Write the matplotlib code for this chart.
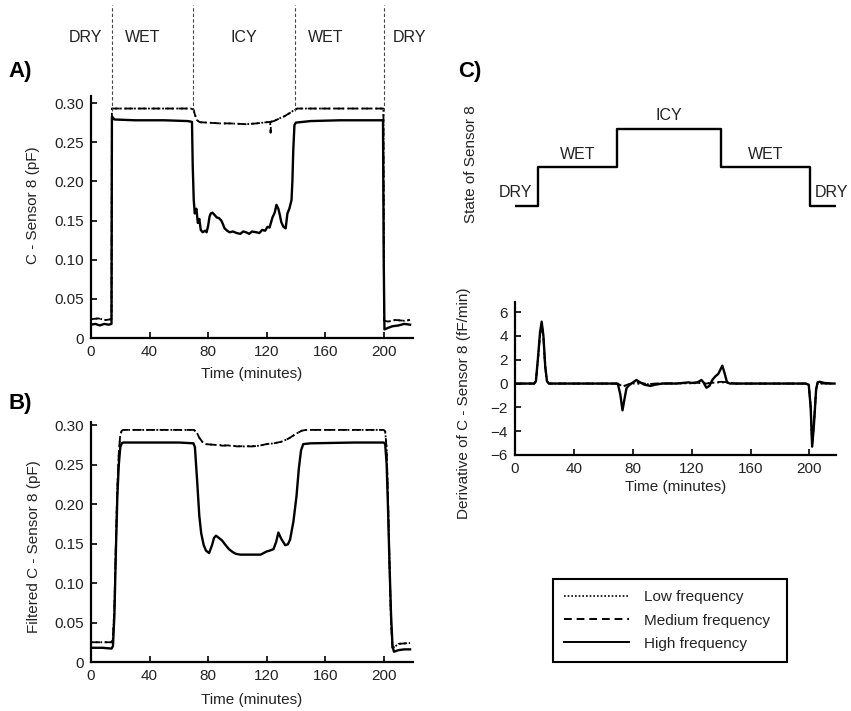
import matplotlib
matplotlib.use('Agg')
import matplotlib.pyplot as plt
from matplotlib.lines import Line2D

plt.rcParams['font.family'] = ['Liberation Sans', 'DejaVu Sans']
TXT = '#222222'
plt.rcParams['text.color'] = TXT
plt.rcParams['axes.labelcolor'] = TXT
plt.rcParams['xtick.color'] = '#000000'
plt.rcParams['ytick.color'] = '#000000'
plt.rcParams['xtick.labelcolor'] = TXT
plt.rcParams['ytick.labelcolor'] = TXT

# ---------------- data ----------------
state_names = ['DRY', 'WET', 'ICY', 'WET', 'DRY']
transition_times = [14.5, 69.5, 139.5, 200.5]
state_times = [0, 15.5, 69, 140, 200.5, 217]
state_levels = [0, 1, 2, 1, 0, 0]

# Panel A (raw capacitance, pF)
tA_high = [0, 3, 6, 9, 12, 14, 14.3, 16, 30, 50, 66, 69, 69.5, 70.2, 70.9, 72, 73, 74, 75,
           76.3, 78, 79, 80, 81, 81.8, 83, 84.5, 85.9, 87.5, 89, 90, 91.3, 93, 94.7, 97, 99.5,
           102, 104, 106, 108, 110, 113, 115, 117, 119, 120.6, 122, 124, 125.5, 126.7, 128,
           128.8, 130, 131.5, 133, 134.2, 135.5, 137, 137.6, 138.2, 139, 140, 150, 170, 199.5,
           200, 200.5, 203, 206, 210, 214, 218]
cA_high = [0.017, 0.018, 0.016, 0.018, 0.017, 0.018, 0.283, 0.279, 0.278, 0.278, 0.277, 0.276,
           0.22, 0.176, 0.159, 0.165, 0.147, 0.152, 0.138, 0.135, 0.137, 0.135, 0.143, 0.155,
           0.159, 0.160, 0.157, 0.154, 0.153, 0.150, 0.146, 0.140, 0.137, 0.135, 0.136, 0.134,
           0.133, 0.136, 0.135, 0.133, 0.136, 0.135, 0.134, 0.138, 0.137, 0.142, 0.141, 0.154,
           0.160, 0.170, 0.165, 0.159, 0.148, 0.142, 0.140, 0.159, 0.165, 0.176, 0.20, 0.24,
           0.272, 0.275, 0.277, 0.278, 0.278, 0.10, 0.011, 0.013, 0.015, 0.016, 0.018, 0.017]

tA_med = [0, 5, 10, 14, 14.3, 20, 68, 70, 71, 72.5, 74.3, 80, 88, 95, 106, 113, 120, 122.4,
          122.7, 123, 125, 129, 132, 135.6, 138, 140, 141, 160, 199.8, 200.2, 203, 208, 214, 218]
cA_med = [0.024, 0.025, 0.023, 0.024, 0.293, 0.293, 0.293, 0.292, 0.285, 0.278, 0.2755, 0.275,
          0.274, 0.274, 0.273, 0.274, 0.2755, 0.276, 0.262, 0.276, 0.277, 0.2806, 0.283, 0.287,
          0.290, 0.292, 0.293, 0.293, 0.293, 0.022, 0.021, 0.023, 0.022, 0.023]

tA_low = [0, 5, 10, 14, 14.3, 20, 68, 70, 71, 72.5, 74.3, 80, 88, 95, 106, 113, 120, 125, 129,
          132, 135.6, 138, 140, 141, 160, 199.8, 200.2, 203, 208, 214, 218]
cA_low = [0.024, 0.025, 0.023, 0.024, 0.293, 0.293, 0.293, 0.292, 0.285, 0.278, 0.2755, 0.275,
          0.274, 0.274, 0.273, 0.274, 0.2755, 0.277, 0.2806, 0.283, 0.287, 0.290, 0.292, 0.293,
          0.293, 0.293, 0.022, 0.021, 0.023, 0.022, 0.023]

# Panel B (filtered capacitance, pF)
tB_high = [0, 8, 14, 15, 16, 17, 18, 19, 20, 21, 22, 40, 60, 70, 71, 72.5, 74, 75.3, 77, 78.6,
           80.7, 82.7, 84, 85.4, 87.5, 89.5, 92, 94.2, 97, 99, 102, 105.8, 110, 115.9, 120, 122,
           124.7, 126.5, 128, 130, 132.7, 134.5, 136, 138.3, 140.4, 142, 143.5, 145, 150, 180,
           200, 201, 202, 203, 204, 205, 206, 207, 210, 214, 218]
cB_high = [0.018, 0.018, 0.017, 0.02, 0.06, 0.14, 0.21, 0.25, 0.272, 0.277, 0.278, 0.278, 0.278,
           0.277, 0.272, 0.23, 0.185, 0.163, 0.148, 0.141, 0.138, 0.148, 0.157, 0.160, 0.157,
           0.154, 0.148, 0.143, 0.139, 0.137, 0.136, 0.136, 0.136, 0.136, 0.140, 0.141, 0.143,
           0.152, 0.164, 0.156, 0.148, 0.149, 0.155, 0.178, 0.21, 0.245, 0.268, 0.276, 0.277,
           0.278, 0.278, 0.276, 0.25, 0.19, 0.12, 0.06, 0.02, 0.013, 0.015, 0.016, 0.016]

tB_med = [0, 14, 15, 16, 17, 18, 19, 20, 21, 22, 70, 72, 74, 76, 78, 85, 90, 95, 100, 105, 110,
          115, 120, 125, 130, 135, 140, 144, 147, 200, 201, 202, 203, 204, 205, 206, 208, 210, 218]
cB_med = [0.025, 0.025, 0.03, 0.07, 0.15, 0.22, 0.265, 0.288, 0.293, 0.294, 0.294, 0.292, 0.284,
          0.279, 0.276, 0.275, 0.274, 0.2745, 0.273, 0.2735, 0.273, 0.274, 0.276, 0.277, 0.279,
          0.283, 0.289, 0.293, 0.294, 0.294, 0.292, 0.27, 0.2, 0.12, 0.05, 0.018, 0.02, 0.023,
          0.024]

tB_low = [0, 14, 15, 16, 17, 18, 19, 20, 21, 22, 70, 72, 74, 76, 78, 85, 95, 105, 115, 120, 125,
          130, 135, 140, 144, 147, 200, 201, 202, 203, 204, 205, 206, 208, 210, 218]
cB_low = [0.025, 0.025, 0.03, 0.07, 0.15, 0.22, 0.265, 0.288, 0.293, 0.294, 0.294, 0.292, 0.284,
          0.279, 0.276, 0.275, 0.274, 0.273, 0.274, 0.276, 0.277, 0.279, 0.283, 0.289, 0.293,
          0.294, 0.294, 0.292, 0.27, 0.2, 0.12, 0.05, 0.018, 0.02, 0.023, 0.024]

# Panel C (derivative, fF/min)
tD_high = [0, 10, 13, 14.2, 15.5, 17, 18.1, 19.3, 20.5, 21.7, 23, 60, 69, 70, 71.5, 73, 74.5,
           75.7, 77, 79, 82.5, 85, 88, 92, 95, 100, 110, 118, 120, 124, 126.6, 128, 130, 132,
           134, 136, 138, 140.8, 142.5, 144, 146, 160, 197.5, 199.5, 200.8, 201.8, 203, 204.5,
           205.5, 207, 210, 215, 217]
dD_high = [0, 0, 0, 0.2, 2.0, 4.3, 5.2, 4.0, 1.5, 0.2, 0, 0, 0, -0.1, -0.9, -2.25, -1.2, -0.4,
           -0.2, 0, 0.3, 0.1, -0.1, -0.2, -0.1, 0, 0, 0.1, 0.05, 0.1, 0.3, 0.1, -0.35, -0.2,
           0.3, 0.6, 0.8, 1.5, 0.8, 0.1, 0, 0, 0, -0.1, -2.0, -5.3, -3.5, -0.5, 0.1, 0.15, 0.05,
           0, 0]

tD_med = [0, 13, 14.2, 15.5, 17, 18.1, 19.3, 20.5, 21.7, 23, 70, 73, 76, 80, 84, 90, 95, 120,
          126, 130, 136, 140, 145, 150, 197.5, 199.5, 200.8, 201.8, 203, 204.5, 205.5, 208, 217]
dD_med = [0, 0, 0.2, 1.9, 4.1, 5.0, 3.9, 1.4, 0.2, 0, 0, -0.3, -0.1, 0.05, 0.1, -0.05, 0, 0.05,
          0.1, 0, 0.1, 0.15, 0.1, 0, 0, -0.1, -1.9, -5.1, -3.4, -0.5, 0.05, 0, 0]

tD_low = [0, 13, 14.2, 15.5, 17, 18.1, 19.3, 20.5, 21.7, 23, 70, 73, 76, 80, 90, 100, 120, 130,
          140, 145, 150, 197.5, 199.5, 200.8, 201.8, 203, 204.5, 205.5, 208, 217]
dD_low = [0, 0, 0.2, 1.9, 4.1, 5.0, 3.9, 1.4, 0.2, 0, 0, -0.25, -0.1, 0, -0.05, 0, 0.02, 0.05,
          0.1, 0.1, 0, 0, -0.1, -1.9, -5.1, -3.4, -0.5, 0.05, 0, 0]

xticks = [0, 40, 80, 120, 160, 200]
cap_ticks = [0, 0.05, 0.10, 0.15, 0.20, 0.25, 0.30]
cap_labels = ['0', '0.05', '0.10', '0.15', '0.20', '0.25', '0.30']
der_ticks = [-6, -4, -2, 0, 2, 4, 6]
series_labels = ['Low frequency', 'Medium frequency', 'High frequency']

# ---------------- figure ----------------
W, H = 851, 711
fig = plt.figure(figsize=(W / 100, H / 100), dpi=100)


def rect(l, t, r, b):
    return [l / W, 1 - b / H, (r - l) / W, (b - t) / H]


LOW = dict(color='black', lw=1.3, ls=(0, (1, 1.6)))
MED = dict(color='black', lw=1.3, ls=(0, (5, 2.5)))
HIGH = dict(color='black', lw=1.7, ls='-')


def style(ax):
    for s in ('top', 'right'):
        ax.spines[s].set_visible(False)
    for s in ('left', 'bottom'):
        ax.spines[s].set_linewidth(1.6)
    ax.tick_params(direction='in', length=4, width=1.2, labelsize=11, pad=5)


# Panel A
axA = fig.add_axes(rect(91, 96, 413, 338))
axA.plot(tA_low, cA_low, **LOW)
axA.plot(tA_med, cA_med, **MED)
axA.plot(tA_high, cA_high, **HIGH)
axA.set_xlim(0, 220)
axA.set_ylim(0, 0.309)
axA.set_xticks(xticks)
axA.set_yticks(cap_ticks)
axA.set_yticklabels(cap_labels)
axA.set_xlabel('Time (minutes)', fontsize=11)
axA.set_ylabel('C - Sensor 8 (pF)', fontsize=11)
axA.xaxis.set_label_coords(0.5, -0.12)
axA.yaxis.set_label_coords(-0.158, 0.55)
style(axA)
ytop = (338 - 5) / (338 - 96)
for tt in transition_times:
    axA.axvline(tt, ymin=0.29 / 0.309, ymax=ytop, color='#444444', lw=0.8,
                ls=(0, (3, 2)), clip_on=False)
# state labels above panel A
bounds = [-20] + transition_times + [240]
yl = 1 - 38 / H
for i, name in enumerate(state_names):
    if i == 0:
        x = axA.transData.transform((bounds[1], 0))[0] - 10
        ha = 'right'
    elif i == len(state_names) - 1:
        x = axA.transData.transform((bounds[-2], 0))[0] + 8
        ha = 'left'
    elif name == 'ICY':
        x = axA.transData.transform(((bounds[i] + bounds[i + 1]) / 2, 0))[0]
        ha = 'center'
    else:
        x = axA.transData.transform((bounds[i], 0))[0] + 13
        ha = 'left'
    fig.text(x / W, yl, name, ha=ha, va='center', fontsize=11.5)

# Panel B
axB = fig.add_axes(rect(91, 422, 413, 662))
axB.plot(tB_low, cB_low, **LOW)
axB.plot(tB_med, cB_med, **MED)
axB.plot(tB_high, cB_high, **HIGH)
axB.set_xlim(0, 220)
axB.set_ylim(0, 0.304)
axB.set_xticks(xticks)
axB.set_yticks(cap_ticks)
axB.set_yticklabels(cap_labels)
axB.set_xlabel('Time (minutes)', fontsize=11)
axB.set_ylabel('Filtered C - Sensor 8 (pF)', fontsize=11)
axB.xaxis.set_label_coords(0.5, -0.13)
axB.yaxis.set_label_coords(-0.155, 0.48)
style(axB)

# Panel C - state
axS = fig.add_axes(rect(515, 100, 836, 225))
axS.step(state_times, state_levels, where='post', color='black', lw=1.7)
axS.set_xlim(0, 218)
axS.set_ylim(-0.494, 2.753)
for s in axS.spines.values():
    s.set_visible(False)
axS.set_xticks([])
axS.set_yticks([])
axS.set_ylabel('State of Sensor 8', fontsize=11)
axS.yaxis.set_label_coords(-0.115, 0.49)
for i, name in enumerate(state_names):
    t0, t1 = state_times[i], state_times[i + 1]
    lev = state_levels[i]
    if i == 0:
        x, ha = t1 - 4, 'right'
    elif i == len(state_names) - 1:
        x, ha = t0 + 3, 'left'
    else:
        x, ha = (t0 + t1) / 2, 'center'
    axS.annotate(name, (x, lev), xytext=(0, 4), textcoords='offset points',
                 ha=ha, va='bottom', fontsize=11.5, annotation_clip=False)

# Panel C - derivative
axD = fig.add_axes(rect(515, 302, 836, 455))
axD.plot(tD_low, dD_low, **LOW)
axD.plot(tD_med, dD_med, **MED)
axD.plot(tD_high, dD_high, **HIGH)
axD.set_xlim(0, 218)
axD.set_ylim(-6, 6.85)
axD.set_xticks(xticks)
axD.set_yticks(der_ticks)
axD.set_xlabel('Time (minutes)', fontsize=11)
axD.set_ylabel('Derivative of C - Sensor 8 (fF/min)', fontsize=11)
axD.xaxis.set_label_coords(0.5, -0.163)
axD.yaxis.set_label_coords(-0.137, 0.34)
style(axD)

# Panel letters
for lab, px, py in (('A)', 8, 72), ('B)', 8, 403), ('C)', 458, 72)):
    fig.text(px / W, 1 - py / H, lab, fontsize=16, fontweight='bold', ha='left',
             va='center', color='black')

# Legend
handles = [Line2D([], [], color='black', lw=1.2, ls=(0, (1, 1.2))),
           Line2D([], [], color='black', lw=1.4, ls=(0, (4, 2.5))),
           Line2D([], [], color='black', lw=1.4, ls='-')]
leg = fig.legend(handles, series_labels, loc='center',
                 bbox_to_anchor=(553 / W, 1 - 661 / H, 234 / W, 81 / H),
                 mode='expand', borderaxespad=0, fontsize=11, handlelength=4.25,
                 handletextpad=1.0, labelspacing=0.61, borderpad=0.7, fancybox=False,
                 framealpha=1, edgecolor='black')
leg.get_frame().set_linewidth(1.5)

fig.savefig('out.png', dpi=100)
